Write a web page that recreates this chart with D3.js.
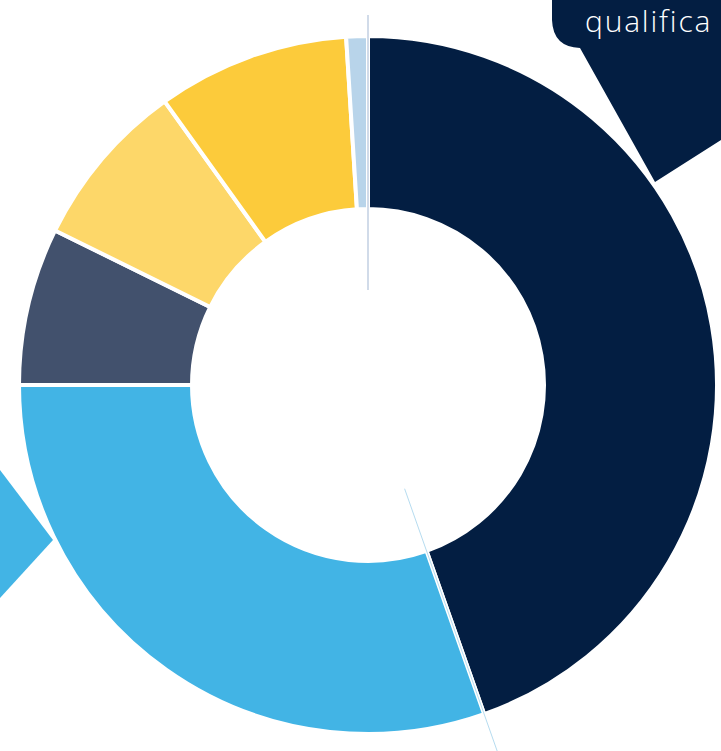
<!DOCTYPE html>
<html>
<head>
<meta charset="utf-8">
<script src="https://cdn.jsdelivr.net/npm/d3@7"></script>
<style>
  html, body { margin: 0; padding: 0; background: #fff; overflow: hidden; }
  svg { display: block; }
</style>
</head>
<body>
<div id="chart"></div>
<script>
// slice data, clockwise from 12 o'clock
var categories = ["A", "B", "C", "D", "E", "F"];
var shares = [44.6, 30.4, 7.3, 7.8, 8.9, 1.0];
var colours = ["#031e42", "#42b4e5", "#42516d", "#fdd769", "#fccb3b", "#b8d4ea"];
var calloutText = "qualifica";

var w = 721, h = 751;
var cx = 368, cy = 385;
var outerR = 349, innerR = 176;

var svg = d3.select("#chart")
  .append("svg")
  .attr("width", w)
  .attr("height", h)
  .attr("viewBox", "0 0 " + w + " " + h);

var pie = d3.pie()
  .value(function(d) { return d; })
  .sort(null);

var arcs = pie(shares);

var arc = d3.arc()
  .innerRadius(innerR)
  .outerRadius(outerR);

var g = svg.append("g")
  .attr("transform", "translate(" + cx + "," + cy + ")");

g.selectAll("path.slice")
  .data(arcs)
  .enter()
  .append("path")
  .attr("class", "slice")
  .attr("d", arc)
  .attr("fill", function(d, i) { return colours[i]; })
  .attr("stroke", "#fff")
  .attr("stroke-width", 4);

// thin leader lines along two slice edges
function edge(angle, r0, r1) {
  return [[Math.sin(angle) * r0, -Math.cos(angle) * r0],
          [Math.sin(angle) * r1, -Math.cos(angle) * r1]];
}
var leaders = [
  {pts: edge(arcs[0].startAngle, 95, 370), colour: "#a3b7d3"},
  {pts: edge(arcs[0].endAngle, 110, 392), colour: "#b6dcf0"}
];
g.selectAll("line.leader")
  .data(leaders)
  .enter()
  .append("line")
  .attr("class", "leader")
  .attr("x1", function(d) { return d.pts[0][0]; })
  .attr("y1", function(d) { return d.pts[0][1]; })
  .attr("x2", function(d) { return d.pts[1][0]; })
  .attr("y2", function(d) { return d.pts[1][1]; })
  .attr("stroke", function(d) { return d.colour; })
  .attr("stroke-width", 1);

// callout bubble, top right (runs off the page)
svg.append("path")
  .attr("d", "M552,-10 L552,20 Q553,47 580,48 L655,182 L740,128 L740,-10 Z")
  .attr("fill", colours[0]);

svg.append("text")
  .attr("x", 585)
  .attr("y", 32)
  .attr("fill", "#fff")
  .style("font-family", "'Open Sans', Lato, sans-serif")
  .style("font-weight", 300)
  .style("font-size", "30px")
  .style("letter-spacing", "1.8px")
  .text(calloutText);

// callout tail, left edge
svg.append("path")
  .attr("d", "M-10,458 L0,470 L53,540 L0,598 L-10,608 Z")
  .attr("fill", colours[1]);
</script>
</body>
</html>
